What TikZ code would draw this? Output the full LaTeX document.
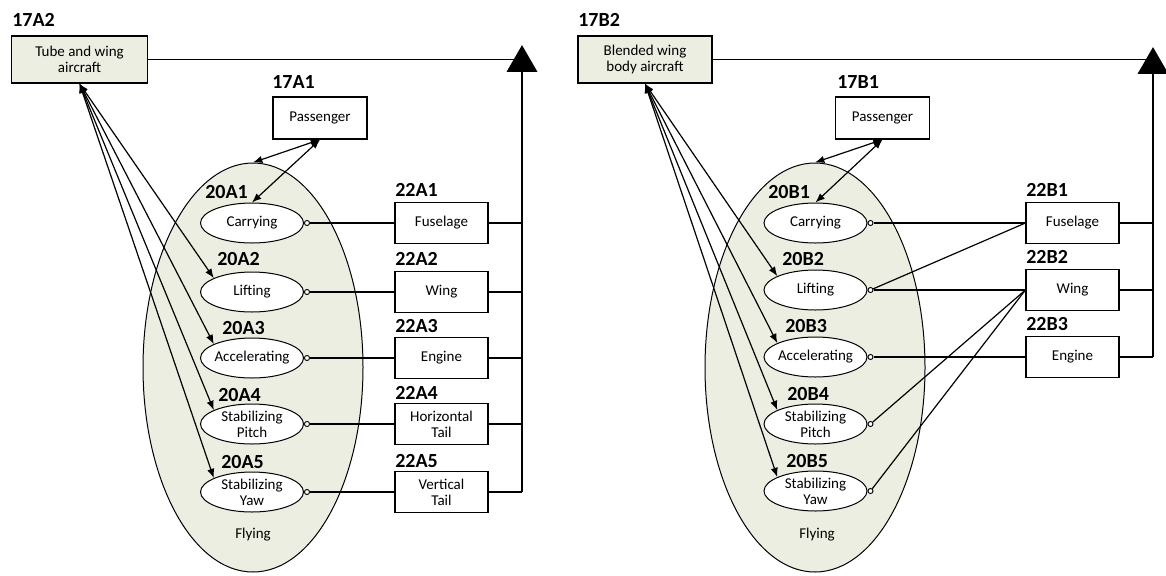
\documentclass[tikz,border=0pt]{standalone}
\usepackage{fontspec}
\setmainfont{Carlito}
\usetikzlibrary{positioning}
\usetikzlibrary{arrows.meta,shapes.geometric}

\definecolor{olivefond}{RGB}{237,238,226}
\newcommand{\corps}{\fontsize{11.25}{12}\selectfont}
\newcommand{\etiq}{\bfseries\fontsize{15}{15}\selectfont}

\tikzset{
  ligne/.style={line width=0.9pt},
  bloc/.style={draw, line width=0.9pt, fill=white, align=center, inner sep=1pt,
    minimum width=69.75pt, minimum height=30.75pt, font=\corps},
  avion/.style={bloc, fill=olivefond, minimum width=102pt, minimum height=35.25pt},
  petit/.style={ellipse, draw, line width=0.75pt, fill=white, align=center,
    inner xsep=-2pt, inner ysep=-2.5pt, minimum width=77.25pt, minimum height=30pt, font=\corps},
  grand/.style={ellipse, draw, line width=0.75pt, fill=olivefond,
    minimum width=165pt, minimum height=306.75pt},
  port/.style={circle, draw, line width=0.7pt, fill=white, inner sep=0pt, minimum size=3.8pt},
  triang/.style={regular polygon, regular polygon sides=3, fill=black, inner sep=0pt,
    minimum size=26.85pt},
  tag/.style={font=\etiq, inner sep=0pt, anchor=base west},
  texte/.style={font=\corps, inner sep=1pt}
}

\begin{document}
\begin{tikzpicture}[x=0.75pt, y=-0.75pt, >={Latex[length=7pt,width=5.5pt]}]
  \useasboundingbox (0,0) rectangle (1166,575);

  % Partie A : tube and wing
  \node[grand] (flyA) at (253,367.5) {};
  \node[texte] (txtA) at (253,535) {Flying};
  \node[avion] (airA) at (79.5,59.5) {Tube and wing\\aircraft};
  \node[bloc, minimum width=70.5pt, minimum height=31.5pt] (passA) at (320,118) {Passenger};
  \node[petit] (carryA) at (252,223) {Carrying};
  \node[petit] (liftA) at (252,292) {Lifting};
  \node[petit] (accA) at (252,358) {Accelerating};
  \node[petit] (pitchA) at (252,424) {Stabilizing\\Pitch};
  \node[petit] (yawA) at (252,492) {Stabilizing\\Yaw};
  \node[bloc] (fusA) at (441.5,223) {Fuselage};
  \node[bloc] (wingA) at (441.5,292) {Wing};
  \node[bloc] (engA) at (441.5,358) {Engine};
  \node[bloc] (htA) at (441.5,424) {Horizontal\\Tail};
  \node[bloc] (vtA) at (441.5,492) {Vertical\\Tail};
  \node[port, right=0pt of carryA] (pcarryA) {};
  \node[port, right=0pt of liftA] (pliftA) {};
  \node[port, right=0pt of accA] (paccA) {};
  \node[port, right=0pt of pitchA] (ppitchA) {};
  \node[port, right=0pt of yawA] (pyawA) {};
  \node[triang] (triA) at (522,63) {};

  \node[tag] (t17A2) at (12,26) {17A2};
  \node[tag] (t17A1) at (272,88) {17A1};
  \node[tag] (t20A1) at (205,198) {20A1};
  \node[tag] (t20A2) at (217,265) {20A2};
  \node[tag] (t20A3) at (222,334) {20A3};
  \node[tag] (t20A4) at (218,401) {20A4};
  \node[tag] (t20A5) at (221,468) {20A5};
  \node[tag] (t22A1) at (395,196) {22A1};
  \node[tag] (t22A2) at (395,265) {22A2};
  \node[tag] (t22A3) at (395,332) {22A3};
  \node[tag] (t22A4) at (395,399) {22A4};
  \node[tag] (t22A5) at (395,467) {22A5};

  % Liaisons A
  \path[ligne] (pcarryA) edge (fusA.west)
               (pliftA) edge (wingA.west)
               (paccA) edge (engA.west)
               (ppitchA) edge (htA.west)
               (pyawA) edge (vtA.west);
  \path[ligne] (fusA.east) edge (fusA.east -| triA.center)
               (wingA.east) edge (wingA.east -| triA.center)
               (engA.east) edge (engA.east -| triA.center)
               (htA.east) edge (htA.east -| triA.center)
               (vtA.east) edge (vtA.east -| triA.center);
  \draw[ligne] (triA.center) -- (triA.center |- vtA.east);
  \draw[ligne] (airA.east) -- (airA.east -| triA.center);
  \path[ligne, <->] (passA.south) edge (flyA.north) edge (carryA.north);
  \path[ligne, <->] (airA.south) edge (liftA.160) edge (accA.160)
                    edge (pitchA.160) edge (yawA.160);

  % Partie B : blended wing body
  \node[grand] (flyB) at (815,367.5) {};
  \node[texte] (txtB) at (817,535) {Flying};
  \node[avion, minimum width=100.5pt] (airB) at (645,59.5) {Blended wing\\body aircraft};
  \node[bloc, minimum width=70.5pt, minimum height=31.5pt] (passB) at (882.5,118) {Passenger};
  \node[petit] (carryB) at (815.5,223) {Carrying};
  \node[petit] (liftB) at (815.5,290) {Lifting};
  \node[petit] (accB) at (815.5,357) {Accelerating};
  \node[petit] (pitchB) at (815.5,424) {Stabilizing\\Pitch};
  \node[petit] (yawB) at (815.5,491) {Stabilizing\\Yaw};
  \node[bloc] (fusB) at (1072.5,223) {Fuselage};
  \node[bloc] (wingB) at (1072.5,290) {Wing};
  \node[bloc] (engB) at (1072.5,357) {Engine};
  \node[port, right=0pt of carryB] (pcarryB) {};
  \node[port, right=0pt of liftB] (pliftB) {};
  \node[port, right=0pt of accB] (paccB) {};
  \node[port, right=0pt of pitchB] (ppitchB) {};
  \node[port, right=0pt of yawB] (pyawB) {};
  \node[triang] (triB) at (1153,65) {};

  \node[tag] (t17B2) at (578,26) {17B2};
  \node[tag] (t17B1) at (837,88) {17B1};
  \node[tag] (t20B1) at (768,198) {20B1};
  \node[tag] (t20B2) at (782,265) {20B2};
  \node[tag] (t20B3) at (785,332) {20B3};
  \node[tag] (t20B4) at (787,400) {20B4};
  \node[tag] (t20B5) at (786,467) {20B5};
  \node[tag] (t22B1) at (1026,196) {22B1};
  \node[tag] (t22B2) at (1026,263) {22B2};
  \node[tag] (t22B3) at (1026,330) {22B3};

  % Liaisons B
  \path[ligne] (pcarryB) edge (fusB.west)
               (pliftB) edge (fusB.west) edge (wingB.west)
               (paccB) edge (engB.west)
               (ppitchB) edge (wingB.west)
               (pyawB) edge (wingB.west);
  \path[ligne] (fusB.east) edge (fusB.east -| triB.center)
               (wingB.east) edge (wingB.east -| triB.center)
               (engB.east) edge (engB.east -| triB.center);
  \draw[ligne] (triB.center) -- (triB.center |- engB.east);
  \draw[ligne] (airB.east) -- (airB.east -| triB.center);
  \path[ligne, <->] (passB.south) edge (flyB.north) edge (carryB.north);
  \path[ligne, <->] (airB.south) edge (liftB.160) edge (accB.160)
                    edge (pitchB.160) edge (yawB.160);
\end{tikzpicture}
\end{document}
